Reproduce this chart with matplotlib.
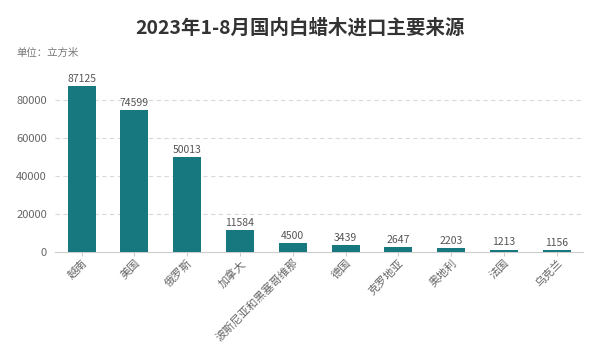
import matplotlib
matplotlib.use("Agg")
import matplotlib.pyplot as plt

plt.rcParams['font.family'] = ['Noto Sans CJK SC', 'DejaVu Sans']

categories = ["越南", "美国", "俄罗斯", "加拿大", "波斯尼亚和黑塞哥维那", "德国", "克罗地亚", "奥地利", "法国", "乌克兰"]
values = [87125, 74599, 50013, 11584, 4500, 3439, 2647, 2203, 1213, 1156]
yticks = [0, 20000, 40000, 60000, 80000]

fig = plt.figure(figsize=(6, 3.6), dpi=100)
ax = fig.add_axes([0.092, 0.30, 0.88, 0.475])

x = range(len(categories))
ax.bar(x, values, width=0.53, color='#17797f', zorder=3)
for xi, v in zip(x, values):
    ax.text(xi, v + 1200, str(v), ha='center', va='bottom', fontsize=7.5, color='#555555', clip_on=False)

ax.set_xlim(-0.5, len(categories) - 0.5)
ax.set_ylim(0, 90000)
ax.set_yticks(yticks)
ax.set_yticklabels([str(t) for t in yticks], fontsize=8, color='#666666')
for t in yticks[1:]:
    ax.axhline(t, color='#d9d9d9', linestyle=(0, (4, 3)), linewidth=0.8, zorder=1)

ax.set_xticks(list(x))
ax.set_xticklabels(categories, rotation=45, ha='right', rotation_mode='anchor', fontsize=8, color='#666666')
ax.tick_params(axis='x', length=3, color='#cccccc', pad=1)
ax.tick_params(axis='y', length=0, pad=6)

for s in ['top', 'right', 'left']:
    ax.spines[s].set_visible(False)
ax.spines['bottom'].set_color('#cccccc')

fig.text(0.5, 0.922, "2023年1-8月国内白蜡木进口主要来源", ha='center', va='center', fontsize=14, fontweight='bold', color='#333333')
fig.text(0.028, 0.852, "单位：立方米", ha='left', va='center', fontsize=7.5, color='#777777')

fig.savefig("out.png", dpi=100, facecolor='white')
